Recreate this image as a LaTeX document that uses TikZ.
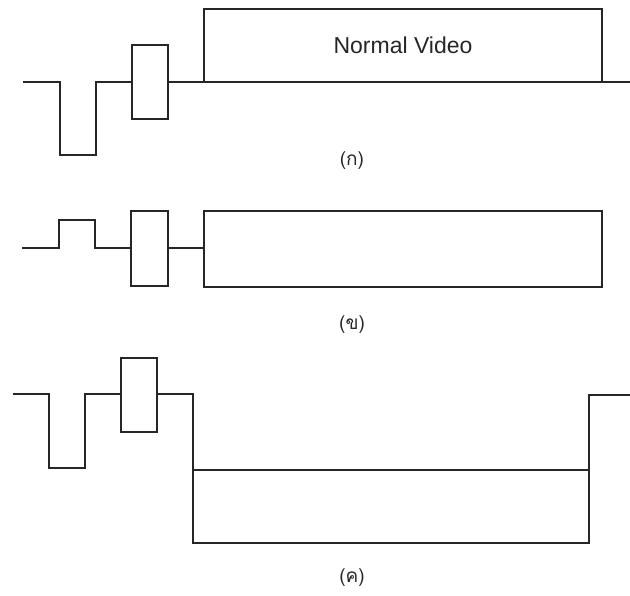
\documentclass[tikz,border=0pt]{standalone}
\usepackage{fontspec}
\setmainfont{Liberation Sans}
\newfontfamily\thaifont[Script=Thai]{Loma}
\begin{document}
\begin{tikzpicture}[x=1pt,y=-1pt,
  wave/.style={draw=black!85,line width=1.5pt,line join=miter},
  lbl/.style={font=\thaifont\fontsize{19}{22}\selectfont,text=black!85,inner sep=0pt},
  vid/.style={font=\fontsize{23}{26}\selectfont,text=black!85,inner sep=0pt}]
\useasboundingbox (0,0) rectangle (630,596);
% ---------- (a)
\draw[wave] (23,82) -- (60,82) -- (60,155) -- (96,155) -- (96,82) -- (132,82);
\draw[wave] (132,45) rectangle (168,119);
\draw[wave] (168,82) -- (630,82);
\draw[wave] (204,82) -- (204,9) -- (602,9) -- (602,82);
\node[vid,anchor=base] (nv) at (403,54) {Normal Video};
\node[lbl] (la) at (352,161) {(ก)};
% ---------- (b)
\draw[wave] (22,248) -- (59,248) -- (59,220) -- (95,220) -- (95,248) -- (131,248);
\draw[wave] (131,211) rectangle (168,286);
\draw[wave] (168,248) -- (204,248);
\draw[wave] (204,211) rectangle (602,287);
\node[lbl] (lb) at (352,325) {(ข)};
% ---------- (c)
\draw[wave] (13,394) -- (49,394) -- (49,468) -- (85,468) -- (85,394) -- (121,394);
\draw[wave] (121,358) rectangle (157,432);
\draw[wave] (157,394) -- (193,394) -- (193,543) -- (589,543) -- (589,395) -- (630,395);
\draw[wave] (193,470) -- (589,470);
\node[lbl] (lc) at (352,578) {(ค)};
\end{tikzpicture}
\end{document}
